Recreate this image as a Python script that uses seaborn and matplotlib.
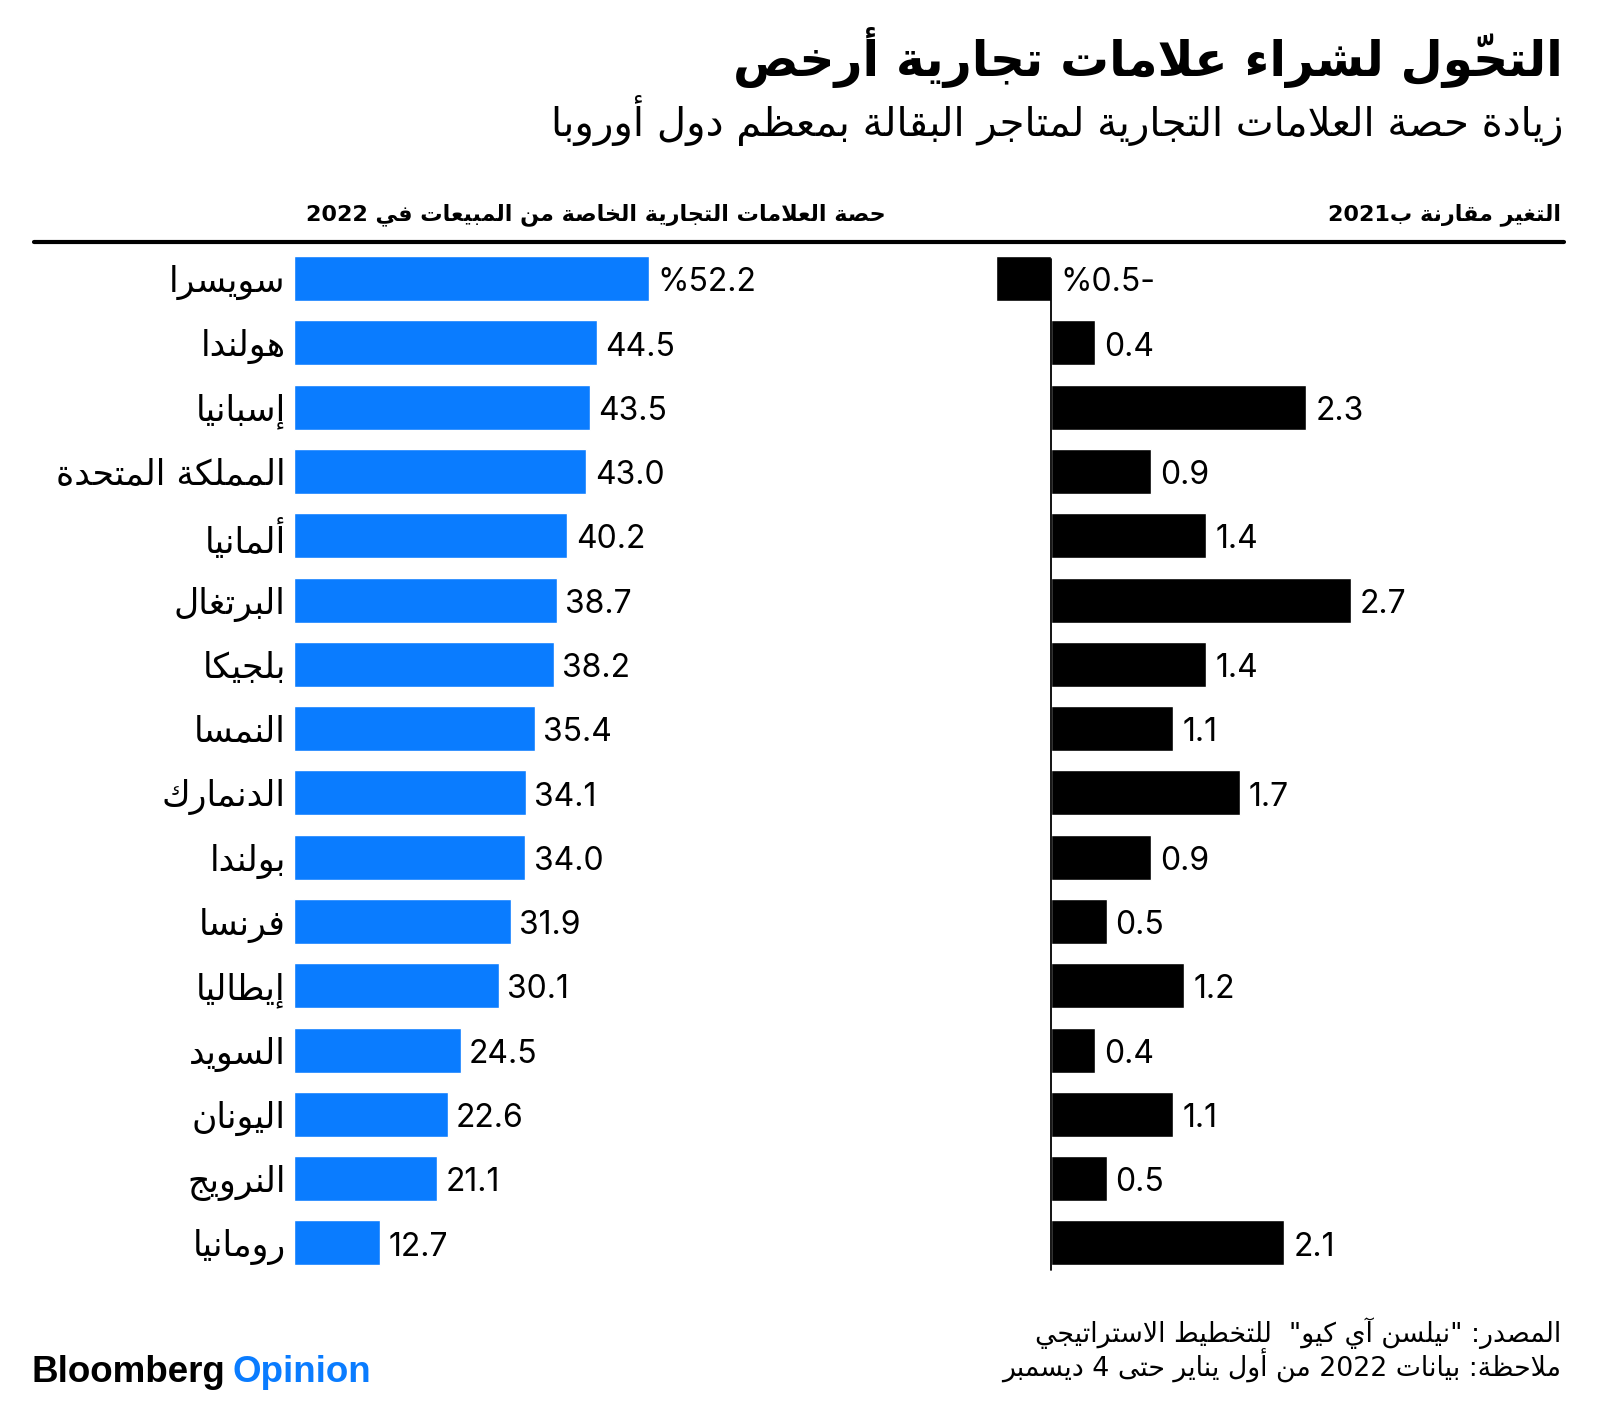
import re
import pandas as pd
import matplotlib
matplotlib.use("Agg")
import matplotlib.pyplot as plt
from matplotlib.lines import Line2D
import seaborn as sns

# data
countries = ['سويسرا', 'هولندا', 'إسبانيا', 'المملكة المتحدة', 'ألمانيا', 'البرتغال',
             'بلجيكا', 'النمسا', 'الدنمارك', 'بولندا', 'فرنسا', 'إيطاليا',
             'السويد', 'اليونان', 'النرويج', 'رومانيا']
share_2022 = [52.2, 44.5, 43.5, 43.0, 40.2, 38.7, 38.2, 35.4, 34.1, 34.0, 31.9, 30.1,
              24.5, 22.6, 21.1, 12.7]
change_2021 = [-0.5, 0.4, 2.3, 0.9, 1.4, 2.7, 1.4, 1.1, 1.7, 0.9, 0.5, 1.2, 0.4, 1.1, 0.5, 2.1]

title = 'التحوّل لشراء علامات تجارية أرخص'
subtitle = 'زيادة حصة العلامات التجارية لمتاجر البقالة بمعظم دول أوروبا'
left_header = 'حصة العلامات التجارية الخاصة من المبيعات في 2022'
right_header = 'التغير مقارنة بـ2021'
source = 'المصدر: "نيلسن آي كيو"  للتخطيط الاستراتيجي'
note = 'ملاحظة: بيانات 2022 من أول يناير حتى 4 ديسمبر'

BLUE = '#0a7cff'

# --- minimal arabic shaping + rtl ordering (matplotlib does neither) ---
_table = [('ء', 0xFE80, 1), ('آ', 0xFE81, 2), ('أ', 0xFE83, 2), ('ؤ', 0xFE85, 2),
          ('إ', 0xFE87, 2), ('ئ', 0xFE89, 4), ('ا', 0xFE8D, 2), ('ب', 0xFE8F, 4),
          ('ة', 0xFE93, 2), ('ت', 0xFE95, 4), ('ث', 0xFE99, 4), ('ج', 0xFE9D, 4),
          ('ح', 0xFEA1, 4), ('خ', 0xFEA5, 4), ('د', 0xFEA9, 2), ('ذ', 0xFEAB, 2),
          ('ر', 0xFEAD, 2), ('ز', 0xFEAF, 2), ('س', 0xFEB1, 4), ('ش', 0xFEB5, 4),
          ('ص', 0xFEB9, 4), ('ض', 0xFEBD, 4), ('ط', 0xFEC1, 4), ('ظ', 0xFEC5, 4),
          ('ع', 0xFEC9, 4), ('غ', 0xFECD, 4), ('ف', 0xFED1, 4), ('ق', 0xFED5, 4),
          ('ك', 0xFED9, 4), ('ل', 0xFEDD, 4), ('م', 0xFEE1, 4), ('ن', 0xFEE5, 4),
          ('ه', 0xFEE9, 4), ('و', 0xFEED, 2), ('ى', 0xFEEF, 2), ('ي', 0xFEF1, 4)]
FORMS = {c: tuple(chr(s + k) for k in range(n)) for c, s, n in _table}
LAM_ALEF = {'آ': 0xFEF5, 'أ': 0xFEF7, 'إ': 0xFEF9, 'ا': 0xFEFB}


def is_mark(c):
    return '\u064B' <= c <= '\u0652'


def shape(text):
    text = text.replace('\u0640', '')
    out, prev_joins, i, n = [], False, 0, len(text)
    while i < n:
        c = text[i]
        if c not in FORMS:
            out.append(c)
            prev_joins = False
            i += 1
            continue
        j, marks = i + 1, ''
        while j < n and is_mark(text[j]):
            marks += text[j]
            j += 1
        nxt = text[j] if j < n else None
        if c == 'ل' and nxt in LAM_ALEF:
            out.append(chr(LAM_ALEF[nxt] + (1 if prev_joins else 0)) + marks)
            prev_joins = False
            i = j + 1
            continue
        f = FORMS[c]
        join_next = len(f) == 4 and nxt in FORMS and len(FORMS[nxt]) > 1
        if prev_joins and join_next:
            g = f[3]
        elif prev_joins:
            g = f[1]
        elif join_next:
            g = f[2]
        else:
            g = f[0]
        out.append(g + marks)
        prev_joins = join_next
        i = j
    return out


def ar(text):
    runs = []
    for cl in shape(text):
        ltr = bool(re.match(r'[0-9A-Za-z.]', cl[0]))
        if runs and runs[-1][0] == ltr:
            runs[-1][1].append(cl)
        else:
            runs.append([ltr, [cl]])
    parts = []
    for ltr, cls in reversed(runs):
        parts.append(''.join(cls if ltr else cls[::-1]))
    return ''.join(parts)


sns.set_theme(style='white')
plt.rcParams['font.family'] = ['DejaVu Sans']
plt.rcParams['text.color'] = 'black'
plt.rcParams['ytick.color'] = 'black'

W, H = 1600, 1406
fig = plt.figure(figsize=(W / 100, H / 100), dpi=100)


def fx(px):
    return px / W


def fy(py):
    return 1 - py / H


ax_bottom, ax_h = fy(1275), (1275 - 246.5) / H
ax1 = fig.add_axes([fx(294), ax_bottom, fx(606), ax_h])
ax2 = fig.add_axes([fx(940), ax_bottom, fx(620), ax_h])

df = pd.DataFrame({'country': [ar(c) for c in countries],
                   'share': share_2022, 'change': change_2021})

sns.barplot(data=df, x='share', y='country', orient='h', color=BLUE,
            width=0.7, saturation=1, ax=ax1)
sns.barplot(data=df, x='change', y='country', orient='h', color='black',
            width=0.7, saturation=1, ax=ax2)

ax1.set_xlim(0, 606 / 6.8)
ax2.set_xlim(-111 / 111, 509 / 111)

for ax in (ax1, ax2):
    ax.set_xlabel('')
    ax.set_ylabel('')
    ax.set_xticks([])
    sns.despine(ax=ax, left=True, bottom=True)

ax1.tick_params(axis='y', length=0, pad=6, labelsize=25, labelcolor='black')
ax2.set_yticks([])
ax2.axvline(0, ymin=0.005, ymax=0.988, color='black', lw=1.3)

num_font = dict(family=['Inter', 'DejaVu Sans'], fontsize=23, color='black')
for i, v in enumerate(share_2022):
    lab = f'%{v:.1f}' if i == 0 else f'{v:.1f}'
    ax1.annotate(lab, (v, i), xytext=(6, -3), textcoords='offset points',
                 va='center', ha='left', **num_font)
for i, v in enumerate(change_2021):
    lab = f'%{abs(v):.1f}-' if v < 0 else f'{v:.1f}'
    ax2.annotate(lab, (max(v, 0), i), xytext=(6.5, -3), textcoords='offset points',
                 va='center', ha='left', **num_font)

# titles
fig.text(fx(1563), fy(57), ar(title), ha='right', va='center',
         fontsize=35, fontweight='bold')
fig.text(fx(1563), fy(120), ar(subtitle), ha='right', va='center', fontsize=29)

fig.text(fx(886), fy(215), ar(left_header), ha='right', va='center',
         fontsize=16, fontweight='bold')
fig.text(fx(1561), fy(215), ar(right_header), ha='right', va='center',
         fontsize=16, fontweight='bold')
fig.add_artist(Line2D([fx(34), fx(1564)], [fy(242), fy(242)], lw=3, color='black'))

# footer
fig.text(fx(1561), fy(1333), ar(source), ha='right', va='center', fontsize=19.3)
fig.text(fx(1561), fy(1366), ar(note), ha='right', va='center', fontsize=19.3)
fig.text(fx(31), fy(1372), 'Bloomberg', ha='left', va='center', fontsize=26.5,
         fontweight='bold', family='Liberation Sans', color='black')
fig.text(fx(233), fy(1372), 'Opinion', ha='left', va='center', fontsize=26.5,
         fontweight='bold', family='Liberation Sans', color=BLUE)

fig.savefig('out.png', dpi=100)
